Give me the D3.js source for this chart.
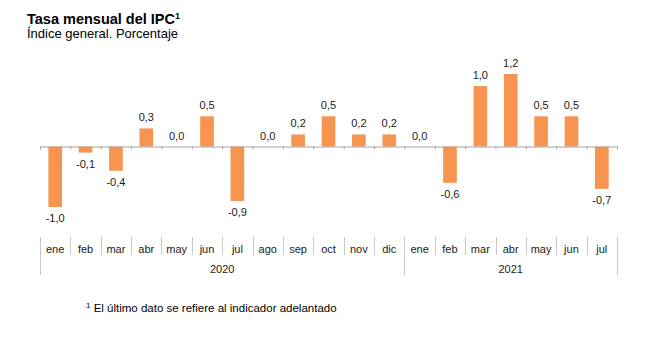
<!DOCTYPE html>
<html><head><meta charset="utf-8">
<script src="https://cdn.jsdelivr.net/npm/d3@7/dist/d3.min.js"></script>
<style>body{margin:0;background:#fff}svg{display:block;font-family:"Liberation Sans",Arial,sans-serif}</style>
</head><body><svg id="c" width="658" height="338"></svg>
<script>
const months = ["ene","feb","mar","abr","may","jun","jul","ago","sep","oct","nov","dic","ene","feb","mar","abr","may","jun","jul"];
const years = ["2020","2021"];
const yearOf = [0,0,0,0,0,0,0,0,0,0,0,0,1,1,1,1,1,1,1];
const values = [-1.0,-0.1,-0.4,0.3,0.0,0.5,-0.9,0.0,0.2,0.5,0.2,0.2,0.0,-0.6,1.0,1.2,0.5,0.5,-0.7];

const svg = d3.select("#c");
const left = 40, right = 617;
const keys = months.map((m,i)=>i);
const x = d3.scaleBand().domain(keys).range([left,right]).paddingInner(0.55).paddingOuter(0.275);
const b = d3.scaleLinear().domain([0, months.length]).range([left,right]);
const y = d3.scaleLinear().domain([-1.0,1.2]).range([207,74]);
const fmt = v => d3.format(".1f")(v).replace(".",",").replace("−","-");

// title
const t = svg.append("text").attr("x",27).attr("y",24).attr("font-size",14.5).attr("font-weight","bold").attr("fill","#000");
t.append("tspan").text("Tasa mensual del IPC");
t.append("tspan").attr("font-size",9).attr("dy",-5).text("1");
svg.append("text").attr("x",27).attr("y",38).attr("font-size",13).attr("fill","#000").text("Índice general. Porcentaje");

// bars
svg.selectAll("rect.bar").data(values).join("rect").attr("class","bar")
  .attr("x",(d,i)=>x(i)).attr("width",x.bandwidth())
  .attr("y",d=>y(Math.max(0,d))).attr("height",d=>Math.abs(y(d)-y(0)))
  .attr("fill","#f69450");

// zero axis
svg.append("g").attr("transform",`translate(0,${y(0)})`)
  .call(d3.axisBottom(b).tickValues(d3.range(months.length+1)).tickSize(3).tickSizeOuter(0).tickFormat(""))
  .call(g=>g.selectAll("line,path").attr("stroke","#a6a6a6"));

// value labels
svg.selectAll("text.val").data(values).join("text").attr("class","val")
  .attr("x",(d,i)=>x(i)+x.bandwidth()/2)
  .attr("y",d=> d>=0 ? y(d)-7 : y(d)+15)
  .attr("text-anchor","middle").attr("font-size",11).attr("fill","#1a1a1a")
  .text(d=>fmt(d));

// category axis separators
const sep = svg.append("g").attr("stroke","#c8c8c8").attr("stroke-width",1);
d3.range(months.length+1).forEach(i=>{
  const isYear = i===0 || i===months.length || yearOf[i]!==yearOf[i-1];
  sep.append("line").attr("x1",Math.round(b(i))+0.5).attr("x2",Math.round(b(i))+0.5)
    .attr("y1",237).attr("y2",isYear?275:255);
});
svg.selectAll("text.mon").data(months).join("text").attr("class","mon")
  .attr("x",(d,i)=>x(i)+x.bandwidth()/2).attr("y",253)
  .attr("text-anchor","middle").attr("font-size",11).attr("fill","#1a1a1a").text(d=>d);
years.forEach((yr,k)=>{
  const idx = keys.filter(i=>yearOf[i]===k);
  const x0 = b(idx[0]), x1 = b(idx[idx.length-1]+1);
  svg.append("text").attr("x",(x0+x1)/2).attr("y",273).attr("text-anchor","middle")
    .attr("font-size",11).attr("fill","#1a1a1a").text(yr);
});

// footnote
const f = svg.append("text").attr("x",86).attr("y",312).attr("font-size",11.5).attr("fill","#000");
f.append("tspan").attr("font-size",8).attr("dy",-4).text("1");
f.append("tspan").attr("dy",4).text(" El último dato se refiere al indicador adelantado");
</script></body></html>
